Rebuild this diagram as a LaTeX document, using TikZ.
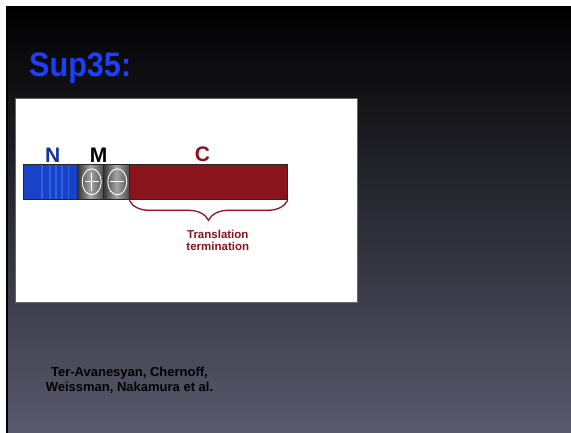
\documentclass[tikz,border=0pt]{standalone}
\usepackage{fontspec}
\setmainfont{Liberation Sans}
\usetikzlibrary{positioning,decorations.pathreplacing,shapes.geometric}
\definecolor{titleblue}{RGB}{28,62,255}
\definecolor{nlabel}{RGB}{20,50,170}
\definecolor{nblue}{RGB}{24,66,200}
\definecolor{nstripe}{RGB}{48,96,228}
\definecolor{cred}{RGB}{138,20,28}
\definecolor{slidebot}{RGB}{90,90,110}

\begin{document}
\begin{tikzpicture}[x=1pt,y=-1pt,
    seg/.style={draw=black!85,line width=0.6pt,minimum height=35pt,inner sep=0pt,outer sep=0pt},
    cell/.style={seg,minimum width=26pt,left color=black!80,right color=black!70,middle color=black!35},
    domlabel/.style={font=\fontsize{21}{24}\selectfont\bfseries,inner sep=0pt},
    charge/.style={ellipse,draw=white,line width=0.9pt,minimum width=19pt,minimum height=26pt,inner sep=0pt}]
    \useasboundingbox (0,0) rectangle (571,433);
    \shade[top color=black,bottom color=slidebot] (6,6) rectangle (575,437);
    \fill[white] (-2,-2) rectangle (575,6) (-2,-2) rectangle (6,437);
    \draw[black,line width=2pt] (7,6) -- (7,437);
    \node[font=\fontsize{34}{38}\selectfont\bfseries,text=titleblue,xscale=0.9,anchor=base west,inner sep=0pt] (title) at (29,76.5) {Sup35:};
    \node[draw=black!60,fill=white,minimum width=342.5pt,minimum height=204.5pt,anchor=north west,inner sep=0pt] (panel) at (14.5,97.8) {};
    \node[seg,fill=nblue,minimum width=54pt,anchor=north west] (nterm) at (23.3,164.3) {};
    \foreach \sx in {18.4,26.7,32.7,38.4,45}
        \draw[nstripe,line width=1.6pt] ([xshift=\sx pt,yshift=-0.6pt]nterm.north west) -- ([xshift=\sx pt,yshift=0.6pt]nterm.south west);
    \node[cell,right=0pt of nterm] (pos) {};
    \node[cell,right=0pt of pos] (neg) {};
    \node[seg,fill=cred,minimum width=158.4pt,right=0pt of neg] (cterm) {};
    \node[charge,xshift=1.4pt,path picture={\draw[white,line width=0.9pt]
        ([xshift=-7pt]path picture bounding box.center) -- ([xshift=7pt]path picture bounding box.center)
        ([yshift=-9pt]path picture bounding box.center) -- ([yshift=9pt]path picture bounding box.center);}] (plus) at (pos) {};
    \node[charge,xshift=1pt,path picture={\draw[white,line width=0.9pt]
        ([xshift=-7pt]path picture bounding box.center) -- ([xshift=7pt]path picture bounding box.center);}] (minus) at (neg) {};
    \node[domlabel,text=nlabel,above=2pt of nterm.north,xshift=2.4pt] (nlab) {N};
    \node[domlabel,text=black,above=2pt of pos.north east,xshift=-4.6pt] (mlab) {M};
    \node[domlabel,text=cred,above=2pt of cterm.north,xshift=-6pt] (clab) {C};
    \draw[cred,line width=1.3pt,decorate,decoration={brace,mirror,amplitude=20pt,raise=1pt}]
        (cterm.south west) -- (cterm.south east);
    \node[font=\fontsize{11.5}{12.4}\selectfont\bfseries,text=cred,align=center,anchor=north,inner sep=0pt] (term) at (217.8,229.5) {Translation\\termination};
    \node[font=\fontsize{13}{15.7}\selectfont\bfseries,text=black,align=center,anchor=north,inner sep=0pt] (refs) at (129.5,366.5) {Ter-Avanesyan, Chernoff,\\Weissman, Nakamura et al.};
\end{tikzpicture}
\end{document}
